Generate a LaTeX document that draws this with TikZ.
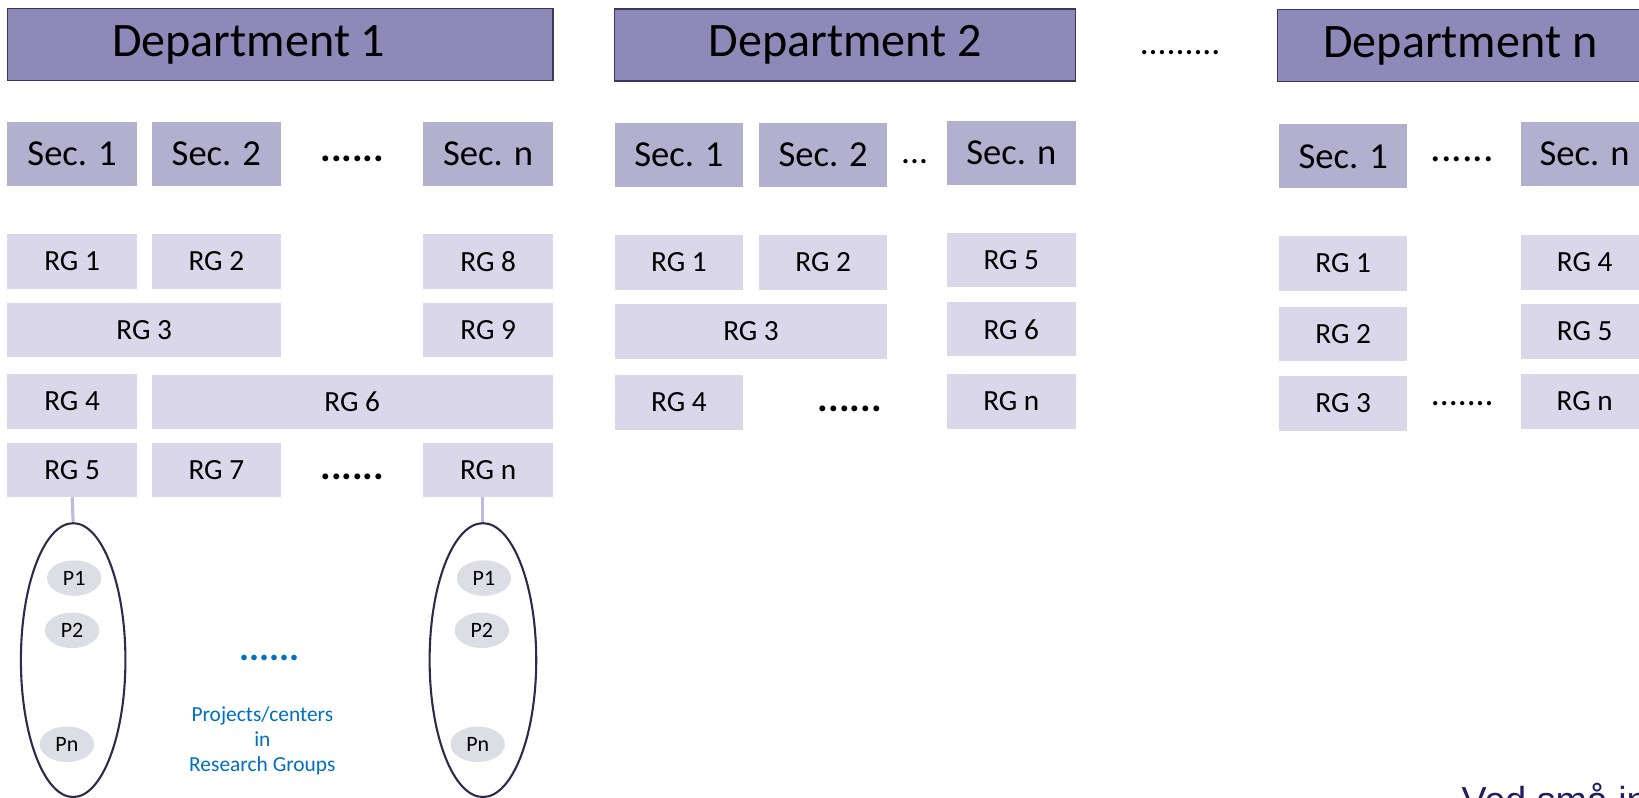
\documentclass[tikz,border=0pt]{standalone}
\usepackage{fontspec}
\setmainfont{Carlito}
\newfontfamily\notefont{Liberation Sans}
\usepackage{tikz}
\usetikzlibrary{shapes.geometric}

\definecolor{deptfill}{RGB}{142,137,184}
\definecolor{deptline}{RGB}{60,55,90}
\definecolor{secfill}{RGB}{179,175,207}
\definecolor{rgfill}{RGB}{217,215,233}
\definecolor{projfill}{RGB}{221,221,229}
\definecolor{groupline}{RGB}{46,42,74}
\definecolor{linkcol}{RGB}{190,185,226}
\definecolor{noteblue}{RGB}{0,112,192}
\definecolor{navy}{RGB}{35,31,92}

\begin{document}
\begin{tikzpicture}[x=1pt, y=-1pt,
        dept/.style={rectangle, draw=deptline, line width=1.5pt, fill=deptfill, minimum height=69pt, inner sep=0pt, font=\fontsize{46}{52}\selectfont},
        sec/.style={rectangle, fill=secfill, minimum width=124pt, minimum height=61pt, inner sep=0pt, font=\fontsize{35}{42}\selectfont},
        rg/.style={rectangle, fill=rgfill, minimum width=124pt, minimum height=52pt, inner sep=0pt, font=\fontsize{28}{32}\selectfont},
        proj/.style={ellipse, fill=projfill, minimum width=52pt, minimum height=34pt, inner sep=0pt, font=\fontsize{21}{24}\selectfont},
        group/.style={ellipse, draw=groupline, line width=2pt, minimum width=100pt, minimum height=262pt, inner sep=0pt},
        dots/.style={inner sep=0pt, font=\fontsize{34}{40}\selectfont},
        bigdots/.style={inner sep=0pt, font=\bfseries\fontsize{38}{40}\selectfont},
        link/.style={draw=linkcol, line width=3pt}]
        \useasboundingbox (0,0) rectangle (1568,763);
        \clip (0,0) rectangle (1568,763);

        % Departments
        \node[dept, minimum width=522pt] (d1) at (268,42.5) {Department 1\kern60pt};
        \node[dept, minimum width=441pt] (d2) at (808.5,43) {Department 2};
        \node[dots] (ddots) at (1129,50) {.........};
        \node[dept, minimum width=368pt] (dn) at (1406,43.5) {Department n\kern18pt};

        % Sections
        \node[sec] (d1s1) at (69,147.5) {Sec. 1};
        \node[sec] (d1s2) at (207,147.5) {Sec. 2};
        \node[bigdots] (d1sdots) at (337,152) {......};
        \node[sec] (d1sn) at (467,147.5) {Sec. n};

        \node[sec, minimum width=123pt] (d2s1) at (649.5,148.5) {Sec. 1};
        \node[sec, minimum width=123pt] (d2s2) at (787.5,148.5) {Sec. 2};
        \node[dots] (d2sdots) at (875,155) {...};
        \node[sec, minimum width=123pt] (d2sn) at (967.5,146.5) {Sec. n};

        \node[sec, minimum width=122pt] (dns1) at (1285,149.5) {Sec. 1};
        \node[dots, font=\fontsize{40}{40}\selectfont] (dnsdots) at (1399,152) {......};
        \node[sec, minimum width=122pt] (dnsn) at (1516,147.5) {Sec. n};

        % Research groups
        \node[rg] (d1rg1) at (69,250) {RG 1};
        \node[rg] (d1rg2) at (207,250) {RG 2};
        \node[rg] (d1rg8) at (467,250) {RG 8};
        \node[rg, minimum width=262pt] (d1rg3) at (138,315.5) {RG 3};
        \node[rg] (d1rg9) at (467,315.5) {RG 9};
        \node[rg] (d1rg4) at (69,384) {RG 4};
        \node[rg, minimum width=384pt] (d1rg6) at (337,384.5) {RG 6};
        \node[rg] (d1rg5) at (69,449.5) {RG 5};
        \node[rg] (d1rg7) at (207,449.5) {RG 7};
        \node[bigdots] (d1rgdots) at (337,456) {......};
        \node[rg] (d1rgn) at (467,449.5) {RG n};

        \node[rg, minimum width=123pt] (d2rg1) at (649.5,251) {RG 1};
        \node[rg, minimum width=123pt] (d2rg2) at (787.5,251) {RG 2};
        \node[rg, minimum width=123pt] (d2rg5) at (967.5,249) {RG 5};
        \node[rg, minimum width=261pt] (d2rg3) at (718.5,317) {RG 3};
        \node[rg, minimum width=123pt] (d2rg6) at (967.5,315) {RG 6};
        \node[rg, minimum width=123pt] (d2rg4) at (649.5,385) {RG 4};
        \node[bigdots] (d2rgdots) at (813,391) {......};
        \node[rg, minimum width=123pt] (d2rgn) at (967.5,384) {RG n};

        \node[rg, minimum width=122pt] (dnrg1) at (1285,252) {RG 1};
        \node[rg, minimum width=122pt] (dnrg4) at (1516,251) {RG 4};
        \node[rg, minimum width=122pt] (dnrg2) at (1285,319.5) {RG 2};
        \node[rg, minimum width=122pt] (dnrg5) at (1516,317) {RG 5};
        \node[rg, minimum width=122pt] (dnrg3) at (1285,386) {RG 3};
        \node[dots] (dnrgdots) at (1399,386) {.......};
        \node[rg, minimum width=122pt] (dnrgn) at (1516,384) {RG n};

        % Projects
        \node[group] (g1) at (70,631.5) {};
        \node[group, minimum width=102pt] (gn) at (462,631.5) {};
        \node[proj] (g1p1) at (71,553) {P1};
        \node[proj] (g1p2) at (69,603) {P2};
        \node[proj] (g1pn) at (64,712) {Pn};
        \node[proj] (gnp1) at (463,553) {P1};
        \node[proj] (gnp2) at (461,603) {P2};
        \node[proj] (gnpn) at (457,712) {Pn};

        % Edges
        \draw[link] (d1rg5.south) -- (g1.north);
        \draw[link] (d1rgn.south -| gn.north) -- (gn.north);

        % Labels
        \node[inner sep=0pt, text=noteblue, font=\bfseries\fontsize{36}{40}\selectfont] (pdots) at (258,629) {......};
        \node[inner sep=0pt, text=noteblue, align=center, font=\fontsize{20.5}{24}\selectfont] (pnote) at (251,709) {Projects/centers\\in\\Research Groups};
        \node[anchor=base west, inner sep=0pt, text=navy, font=\notefont\fontsize{36}{40}\selectfont] (note) at (1398,778) {Ved små in};
\end{tikzpicture}
\end{document}
